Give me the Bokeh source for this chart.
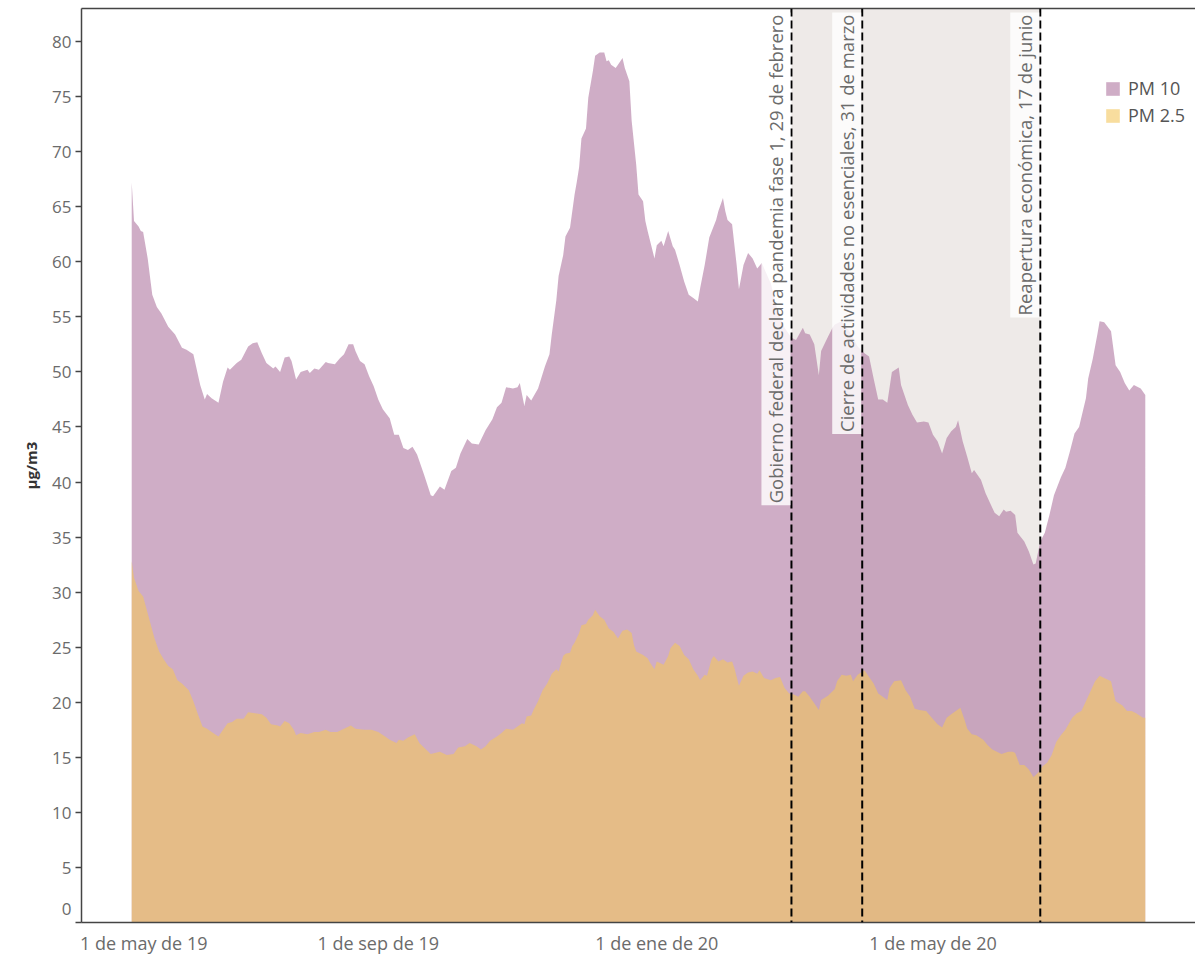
import pandas as pd
from bokeh.plotting import figure
from bokeh.models import (Range1d, FixedTicker, Span, BoxAnnotation, Label,
                          Legend, LegendItem, LinearAxis)
from bokeh.embed import file_html
from bokeh.resources import INLINE

# ---------------- data ----------------
START = "2019-05-16"   # first day of the series; days below are counted from it

pm10_day = [0, 1, 3, 4, 5, 7, 9, 11, 13, 16, 19, 22, 24, 27, 30, 32, 33, 35, 38, 40, 42, 43, 46, 48,
            51, 53, 55, 57, 59, 62, 63, 65, 67, 69, 70, 72, 74, 77, 78, 80, 82, 85, 86, 89, 91, 93,
            95, 97, 98, 100, 102, 104, 106, 108, 110, 113, 115, 117, 119, 121, 123, 125, 128, 131,
            132, 135, 137, 140, 142, 144, 147, 149, 152, 155, 158, 160, 162, 164, 167, 169, 170,
            172, 173, 175, 178, 181, 183, 184, 186, 187, 189, 190, 192, 194, 195, 196, 197, 199,
            200, 202, 203, 205, 207, 208, 209, 210, 212, 213, 215, 216, 218, 219, 221, 222, 224,
            225, 226, 229, 230, 232, 233, 235, 237, 238, 240, 242, 244, 246, 248, 249, 251, 253,
            256, 257, 259, 260, 261, 263, 265, 266, 268, 270, 272, 274, 276, 280, 283, 286, 289,
            291, 294, 295, 297, 299, 301, 302, 305, 307, 308, 311, 315, 318, 321, 323, 325, 327,
            329, 331, 333, 336, 337, 340, 342, 344, 347, 349, 351, 353, 355, 357, 359, 361, 362,
            364, 366, 368, 369, 372, 374, 376, 378, 380, 382, 383, 385, 387, 388, 391, 393, 395,
            396, 398, 400, 402, 404, 407, 409, 411, 413, 415, 418, 419, 421, 423, 424, 426, 429,
            431, 433, 435, 437, 439, 442, 444]
pm10 = [67.2, 63.7, 63.2, 62.8, 62.7, 60.3, 57.0, 55.9, 55.3, 54.1, 53.4, 52.2, 52.0, 51.6, 48.8,
        47.5, 48.0, 47.6, 47.2, 49.1, 50.4, 50.2, 50.8, 51.1, 52.3, 52.6, 52.7, 51.7, 50.8, 50.3,
        50.5, 50.0, 51.3, 51.4, 51.0, 49.3, 50.0, 50.2, 49.9, 50.3, 50.2, 50.9, 50.8, 50.7, 51.2,
        51.6, 52.5, 52.5, 51.9, 51.0, 50.7, 49.6, 48.7, 47.5, 46.6, 45.8, 44.3, 44.3, 43.1, 42.9,
        43.2, 42.5, 40.7, 38.8, 38.7, 39.6, 39.3, 41.0, 41.3, 42.6, 43.9, 43.5, 43.4, 44.7, 45.7,
        46.8, 47.2, 48.6, 48.5, 48.6, 49.0, 46.9, 47.9, 47.4, 48.5, 50.5, 51.6, 53.4, 56.5, 58.7,
        60.6, 62.3, 63.1, 66.1, 67.3, 68.6, 71.2, 72.1, 74.9, 77.3, 78.7, 79.0, 79.0, 78.2, 78.3,
        77.9, 77.6, 77.9, 78.5, 77.6, 76.4, 72.8, 68.8, 66.1, 65.5, 63.7, 62.8, 60.3, 61.5, 61.9,
        61.4, 62.8, 61.4, 61.1, 59.7, 58.2, 57.0, 56.7, 56.4, 57.6, 59.7, 62.2, 63.8, 64.6, 65.8,
        64.6, 63.8, 63.4, 59.7, 57.5, 59.7, 60.8, 60.3, 59.4, 59.9, 58.0, 55.5, 54.0, 53.1, 52.9,
        54.0, 53.5, 53.4, 52.5, 49.7, 51.9, 53.2, 54.0, 54.3, 54.6, 53.5, 52.3, 51.7, 51.4, 49.4,
        47.5, 47.5, 47.2, 50.0, 50.4, 48.8, 47.0, 46.1, 45.4, 45.5, 45.4, 44.3, 43.7, 42.6, 44.0,
        44.6, 45.0, 45.6, 43.7, 42.3, 40.8, 41.1, 40.2, 39.0, 38.1, 37.2, 36.9, 37.5, 37.3, 37.4,
        37.0, 35.4, 34.6, 33.7, 32.5, 32.6, 34.6, 35.4, 37.0, 38.8, 40.4, 41.3, 42.8, 44.4, 45.0,
        47.6, 49.4, 51.2, 53.4, 54.6, 54.5, 53.7, 50.6, 50.0, 49.0, 48.3, 48.8, 48.5, 47.9]

pm25_day = [0, 1, 3, 5, 8, 10, 12, 14, 16, 18, 20, 22, 25, 27, 29, 31, 33, 35, 38, 40, 42, 44, 46,
            49, 51, 54, 57, 59, 61, 64, 65, 67, 69, 71, 72, 74, 77, 80, 82, 85, 87, 90, 93, 96, 98,
            102, 105, 108, 111, 113, 116, 117, 119, 121, 124, 126, 128, 131, 135, 138, 141, 143,
            146, 148, 151, 153, 155, 157, 160, 162, 164, 167, 169, 171, 172, 173, 175, 176, 178,
            180, 182, 184, 186, 187, 189, 190, 192, 193, 194, 196, 197, 199, 200, 202, 203, 205,
            207, 209, 211, 213, 215, 217, 219, 220, 221, 224, 226, 227, 229, 230, 233, 235, 236,
            238, 240, 242, 244, 246, 248, 249, 251, 252, 254, 255, 257, 259, 261, 263, 264, 266,
            268, 270, 272, 274, 275, 277, 280, 282, 284, 286, 288, 290, 292, 294, 295, 297, 301,
            302, 305, 308, 309, 311, 313, 315, 316, 318, 321, 323, 325, 327, 329, 331, 332, 334,
            337, 339, 341, 343, 345, 348, 350, 353, 355, 357, 359, 361, 363, 365, 366, 368, 370,
            373, 375, 377, 379, 381, 384, 386, 387, 389, 391, 393, 395, 397, 399, 401, 403, 405,
            407, 409, 412, 414, 416, 418, 420, 422, 424, 426, 429, 431, 434, 436, 438, 440, 443,
            444]
pm25 = [32.8, 31.3, 30.1, 29.6, 27.3, 25.8, 24.6, 23.9, 23.3, 23.0, 22.0, 21.7, 21.1, 20.1, 18.9,
        17.8, 17.6, 17.3, 16.9, 17.5, 18.1, 18.2, 18.5, 18.5, 19.1, 19.0, 18.9, 18.6, 18.0, 17.9,
        17.8, 18.3, 18.1, 17.5, 17.0, 17.2, 17.1, 17.3, 17.3, 17.5, 17.3, 17.3, 17.6, 17.9, 17.6,
        17.5, 17.5, 17.3, 16.9, 16.6, 16.3, 16.6, 16.5, 16.8, 17.1, 16.3, 15.9, 15.3, 15.5, 15.2,
        15.3, 15.9, 16.0, 16.3, 16.0, 15.7, 16.0, 16.5, 16.9, 17.2, 17.6, 17.5, 17.8, 18.1, 18.0,
        18.7, 18.8, 19.3, 20.1, 21.1, 21.7, 22.6, 23.0, 22.8, 24.2, 24.4, 24.5, 25.1, 25.4, 26.3,
        27.0, 27.1, 27.5, 27.9, 28.4, 27.8, 27.5, 26.7, 26.4, 25.8, 26.5, 26.6, 26.3, 25.2, 24.6,
        24.3, 24.0, 23.6, 23.0, 23.7, 23.4, 24.2, 24.9, 25.4, 25.1, 24.3, 23.9, 23.0, 22.4, 22.0,
        22.5, 22.4, 23.9, 24.2, 23.7, 23.9, 23.6, 23.7, 23.1, 21.5, 22.4, 22.7, 22.8, 22.6, 22.9,
        22.2, 22.0, 22.2, 22.3, 21.3, 20.8, 20.7, 20.5, 21.0, 21.0, 20.5, 19.3, 20.2, 20.6, 21.2,
        21.9, 22.5, 22.4, 22.5, 21.9, 22.5, 22.9, 22.3, 21.7, 20.8, 20.5, 20.2, 21.3, 21.9, 22.0,
        21.1, 20.5, 19.4, 19.3, 19.2, 18.7, 18.0, 17.7, 18.6, 18.9, 19.2, 19.5, 18.3, 17.6, 17.1,
        17.0, 16.6, 16.1, 15.7, 15.5, 15.3, 15.5, 15.5, 15.4, 14.3, 14.3, 13.9, 13.2, 13.6, 14.2,
        14.5, 15.2, 16.4, 17.0, 17.5, 18.6, 19.0, 19.2, 20.1, 21.0, 21.9, 22.4, 22.2, 21.9, 20.1,
        19.7, 19.2, 19.2, 19.0, 18.6, 18.6]

tick_dates = ["2019-05-01", "2019-09-01", "2020-01-01", "2020-05-01"]
tick_labels = ["1 de may de 19", "1 de sep de 19", "1 de ene de 20", "1 de may de 20"]
y_ticks = list(range(0, 85, 5))

event_dates = ["2020-02-29", "2020-03-31", "2020-06-17"]
event_labels = ["Gobierno federal declara pandemia fase 1, 29 de febrero",
                "Cierre de actividades no esenciales, 31 de marzo",
                "Reapertura económica, 17 de junio"]
band = ["2020-02-29", "2020-06-17"]
x_limits = ["2019-04-24", "2020-08-24"]
y_limits = [0, 83]

series_names = ["PM 10", "PM 2.5"]
series_colors = ["#AF76A0", "#F4C65D"]   # drawn at 60 % opacity, as Tableau does
AREA_ALPHA = 0.6


def day(s):
    return (pd.Timestamp(s) - pd.Timestamp(START)).days


FONT = "Open Sans"
GREY = "#6b6b6b"
AXIS = "#444444"

p = figure(width=1195, height=957, output_backend="svg", toolbar_location=None,
           x_range=Range1d(day(x_limits[0]), day(x_limits[1])),
           y_range=Range1d(*y_limits),
           min_border_left=81, min_border_right=0, min_border_top=8, min_border_bottom=35)
p.xgrid.visible = False
p.ygrid.visible = False
p.outline_line_color = None
p.background_fill_color = "white"

# shaded period, under the areas
p.add_layout(BoxAnnotation(left=day(band[0]), right=day(band[1]), level="underlay",
                           fill_color="#EEEAE8", fill_alpha=1.0, line_color=None))

r10 = p.varea(x=pm10_day, y1=[0] * len(pm10), y2=pm10,
              fill_color=series_colors[0], fill_alpha=AREA_ALPHA)
r25 = p.varea(x=pm25_day, y1=[0] * len(pm25), y2=pm25,
              fill_color=series_colors[1], fill_alpha=AREA_ALPHA)

for d in event_dates:
    p.add_layout(Span(location=day(d), dimension="height", line_color="black",
                      line_width=2, line_dash="8 4"))

for d, t in zip(event_dates, event_labels):
    p.add_layout(Label(x=day(d), y=y_limits[1], text=t, angle=90, angle_units="deg",
                       text_align="right", text_baseline="bottom",
                       x_offset=-1, y_offset=-4,
                       text_font=FONT, text_font_size="18.5px", text_color=GREY,
                       background_fill_color="white", background_fill_alpha=0.82,
                       padding=2))

# bottom axis
xt = [day(d) for d in tick_dates]
xax = p.below[0]
xax.ticker = FixedTicker(ticks=xt)
ov = {t: lab for t, lab in zip(xt, tick_labels)}
# Tableau pushes the first label inward so it is not clipped
ov[xt[0]] = "\u00a0" * 17 + tick_labels[0]
xax.major_label_overrides = ov
xax.major_tick_out = 0
xax.major_tick_in = 0
xax.minor_tick_out = 0
xax.minor_tick_in = 0
xax.major_label_standoff = 8
xax.major_label_text_font = FONT
xax.major_label_text_font_size = "18px"
xax.major_label_text_color = GREY
xax.axis_line_color = AXIS
xax.axis_line_width = 1.5

# left axis
yax = p.left[0]
yax.ticker = FixedTicker(ticks=y_ticks)
yax.major_label_overrides = {0: "0\n\u00a0"}
yax.major_tick_out = 6
yax.major_tick_in = 0
yax.minor_tick_out = 0
yax.minor_tick_in = 0
yax.major_tick_line_color = AXIS
yax.major_tick_line_width = 1.5
yax.major_label_standoff = 4
yax.major_label_text_font = FONT
yax.major_label_text_font_size = "17px"
yax.major_label_text_color = GREY
yax.axis_line_color = AXIS
yax.axis_line_width = 1.5
yax.axis_label = "µg/m3"
yax.axis_label_text_font = FONT
yax.axis_label_text_font_size = "15px"
yax.axis_label_text_font_style = "bold"
yax.axis_label_text_color = "#333333"
yax.axis_label_standoff = 8

# top border only (no right border in the reference)
top = LinearAxis(ticker=FixedTicker(ticks=[]), axis_line_color=AXIS, axis_line_width=1.5,
                 major_tick_out=0, major_tick_in=0, minor_tick_out=0, minor_tick_in=0,
                 major_label_standoff=0, major_label_text_font_size="0px")
p.add_layout(top, "above")

legend = Legend(items=[LegendItem(label=series_names[0], renderers=[r10]),
                       LegendItem(label=series_names[1], renderers=[r25])],
                location=(1023, 795), orientation="vertical",
                glyph_width=17, glyph_height=17, label_height=17, spacing=3,
                label_standoff=7, padding=0, margin=0,
                border_line_color=None, background_fill_alpha=0,
                label_text_font=FONT, label_text_font_size="18px",
                label_text_color="#555555")
p.add_layout(legend)

open("out.html", "w").write(file_html(p, INLINE))
